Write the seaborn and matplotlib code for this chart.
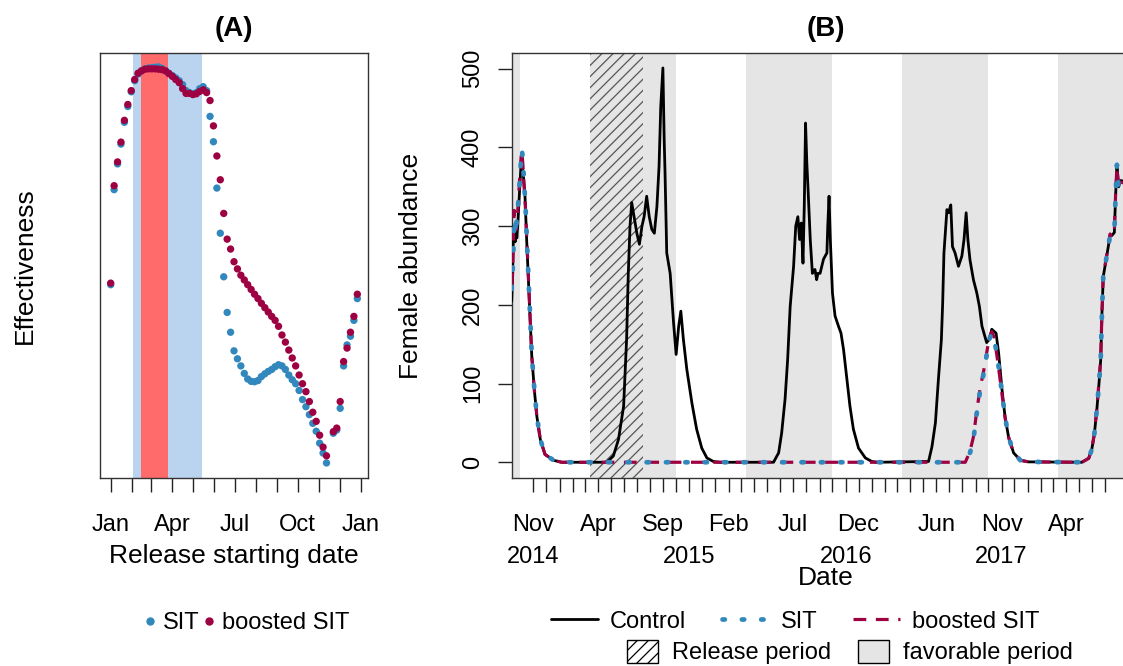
import pandas as pd
import seaborn as sns
import matplotlib.pyplot as plt
from matplotlib.lines import Line2D
from matplotlib.patches import Patch

# ---- panel A : effectiveness by release starting day (day of year) ----
release_day = [0, 5, 10, 15, 20, 25, 30, 35, 40, 45,
               50, 55, 60, 65, 70, 75, 80, 85, 90, 95,
               100, 105, 110, 115, 120, 125, 130, 135, 140, 145,
               150, 155, 160, 165, 170, 175, 180, 185, 190, 195,
               200, 205, 210, 215, 220, 225, 230, 235, 240, 245,
               250, 255, 260, 265, 270, 275, 280, 285, 290, 295,
               300, 305, 310, 315, 320, 325, 330, 335, 340, 345,
               350, 355, 360]
eff_sit = [0.45, 0.69, 0.755, 0.805, 0.86, 0.9, 0.937, 0.965, 0.982, 0.99,
           0.995, 0.997, 0.998, 0.999, 1.0, 0.996, 0.99, 0.984, 0.978, 0.972,
           0.965, 0.955, 0.94, 0.935, 0.932, 0.935, 0.945, 0.95, 0.94, 0.875,
           0.811, 0.694, 0.58, 0.47, 0.38, 0.33, 0.283, 0.263, 0.245, 0.226,
           0.212, 0.206, 0.205, 0.208, 0.218, 0.225, 0.231, 0.236, 0.243, 0.248,
           0.245, 0.236, 0.222, 0.21, 0.2, 0.183, 0.16, 0.142, 0.122, 0.1,
           0.08, 0.05, 0.025, 0.0, None, 0.075, 0.083, 0.138, 0.245, 0.298,
           0.32, 0.36, 0.415]
eff_boosted = [0.454, 0.70, 0.76, 0.81, 0.865, 0.905, 0.94, 0.968, 0.984, 0.99,
               0.994, 0.995, 0.995, 0.995, 0.994, 0.993, 0.99, 0.983, 0.976, 0.968,
               0.96, 0.945, 0.933, 0.933, 0.93, 0.932, 0.938, 0.942, 0.935, 0.915,
               0.851, 0.775, 0.715, 0.63, 0.565, 0.54, 0.508, 0.49, 0.474, 0.462,
               0.45, 0.438, 0.426, 0.415, 0.403, 0.392, 0.381, 0.37, 0.36, 0.345,
               0.323, 0.305, 0.285, 0.265, 0.245, 0.222, 0.2, 0.18, 0.155, 0.128,
               0.105, 0.07, 0.04, 0.018, None, 0.079, 0.088, 0.155, 0.256, 0.29,
               0.33, 0.37, 0.426]
window_wide = (32, 133)   # Feb 1 - May 14
window_best = (44, 84)    # Feb 14 - Mar 26
month_start_doy = [0, 31, 59, 90, 120, 151, 181, 212, 243, 273, 304, 334, 365]
month_names_a = ["Jan", "", "", "Apr", "", "", "Jul", "", "", "Oct", "", "", "Jan"]

# ---- panel B : female abundance over time (days after 2014-11-01) ----
t0 = pd.Timestamp("2014-11-01")
control_day = [-51, -49, -47, -45, -43, -41, -39, -37, -35, -33, -30, -28, -26, -23, -20, -16, -9, -4, 2, 8, 16, 27, 47, 66,
               172, 187, 199, 211, 218, 222, 226, 230, 234, 242, 248, 254, 259, 265, 271, 277, 283, 289, 294, 298,
               303, 306, 308, 312, 320, 328, 334, 340, 345, 351, 359, 371, 382, 394, 406, 421, 437,
               562, 574, 581, 589, 595, 601, 609, 614, 619, 623, 627, 631, 634, 637, 640, 643, 648, 653, 659, 663,
               666, 671, 679, 687, 689, 692, 695, 700, 706, 714, 720, 726, 734, 741, 749, 761, 777, 792, 805,
               925, 933, 941, 948, 955, 958, 961, 968, 972, 977, 981, 987, 995, 1003, 1008, 1013, 1017, 1022,
               1030, 1038, 1044, 1050, 1061, 1067, 1073, 1083, 1089, 1097, 1104, 1112, 1124, 1140, 1159,
               1284, 1300, 1307, 1313, 1319, 1324, 1328, 1331, 1334, 1340, 1346, 1350, 1354, 1360, 1363, 1366,
               1370, 1375, 1381]
control_val = [205, 235, 290, 300, 280, 305, 285, 300, 320, 340, 370, 385, 375, 360, 340, 283, 198, 135, 92, 58, 29, 10, 2.5, 0,
               0, 8, 29, 71, 156, 240, 300, 330, 317, 291, 277, 300, 312, 338, 312, 296, 291, 325, 376, 452,
               501, 410, 368, 266, 240, 177, 137, 173, 192, 156, 118, 75, 42, 18, 5.5, 1, 0,
               0, 12, 37, 80, 130, 198, 249, 300, 312, 283, 304, 253, 325, 431, 380, 345, 283, 240, 245, 232,
               240, 240, 258, 266, 300, 338, 283, 215, 186, 173, 164, 143, 105, 71, 42, 18, 5.5, 1, 0,
               1, 20, 50, 105, 156, 202, 266, 321, 317, 327, 274, 266, 249, 262, 283, 317, 283, 257,
               232, 215, 198, 173, 152, 156, 169, 164, 139, 92, 58, 33, 12, 2.5, 0.5,
               0, 5, 16, 35, 67, 100, 130, 190, 236, 255, 275, 288, 288, 292, 340, 378,
               350, 358, 357]
sit_day = [-51, -49, -47, -45, -43, -41, -39, -37, -34, -31, -28, -27, -25, -22, -19, -16, -9, -4, 2, 8, 16, 27, 47, 66,
           1011, 1022, 1030, 1038, 1046, 1054, 1062, 1067, 1073, 1079, 1087, 1097, 1104, 1112, 1124, 1140, 1159,
           1284, 1300, 1307, 1313, 1319, 1324, 1328, 1331, 1334, 1340, 1346, 1350, 1354, 1360, 1363, 1366,
           1370, 1375, 1381]
sit_val = [220, 240, 270, 310, 305, 290, 310, 320, 340, 370, 392, 397, 385, 355, 330, 290, 200, 137, 93, 58, 29, 10, 2.5, 0,
           0, 12, 29, 63, 92, 113, 139, 156, 164, 156, 130, 88, 58, 33, 12, 2.5, 0.5,
           0, 5, 16, 35, 67, 100, 130, 190, 236, 255, 275, 288, 288, 292, 340, 378,
           350, 358, 357]
boosted_day = [-51, -49, -47, -45, -43, -41, -39, -37, -34, -31, -28, -27, -25, -22, -19, -16, -9, -4, 2, 8, 16, 27, 47, 66,
               1011, 1022, 1030, 1038, 1046, 1054, 1062, 1067, 1073, 1079, 1087, 1097, 1104, 1112, 1124, 1140, 1159,
               1284, 1300, 1307, 1313, 1319, 1324, 1328, 1331, 1334, 1340, 1346, 1350, 1354, 1360, 1363, 1366,
               1370, 1375, 1381]
boosted_val = [225, 238, 285, 320, 300, 295, 305, 318, 345, 372, 395, 393, 380, 350, 325, 288, 198, 135, 92, 58, 29, 10, 2.5, 0,
               0, 14, 32, 66, 95, 116, 142, 158, 166, 158, 128, 86, 57, 32, 12, 2.5, 0.5,
               0, 5, 16, 36, 68, 102, 132, 192, 238, 256, 276, 290, 286, 294, 342, 375,
               348, 356, 355]
release_period = ("2015-03-13", "2015-07-15")
favorable_start = ["2014-03-13", "2015-03-13", "2016-03-13", "2017-03-13", "2018-03-13"]
favorable_end = ["2014-09-30", "2015-09-30", "2016-09-30", "2017-09-30", "2018-09-30"]
month_tick_dates = ["2014-11-01", "2015-04-01", "2015-09-01", "2016-02-01", "2016-07-01",
                    "2016-12-01", "2017-06-01", "2017-11-01", "2018-04-01"]
month_tick_names = ["Nov", "Apr", "Sep", "Feb", "Jul", "Dec", "Jun", "Nov", "Apr"]
year_tick_dates = ["2014-11-01", "2015-11-01", "2016-11-01", "2017-11-01"]
year_tick_names = ["2014", "2015", "2016", "2017"]

BLUE = "#3288BD"
RED = "#9E0142"

sns.set_style("ticks")
plt.rcParams["font.family"] = ["Liberation Sans", "DejaVu Sans"]
plt.rcParams["hatch.linewidth"] = 0.9
for key in ("text.color", "axes.labelcolor", "xtick.color", "ytick.color"):
    plt.rcParams[key] = "black"

fig = plt.figure(figsize=(11.23, 6.66), dpi=100)
axA = fig.add_axes([0.08905, 0.28228, 0.23865, 0.63814])
axB = fig.add_axes([0.45565, 0.28228, 0.55948, 0.63814])

# ---------------- panel A ----------------
axA.axvspan(*window_wide, color="#BAD3EE", lw=0, zorder=0)
axA.axvspan(*window_best, color="#FF6A6A", lw=0, zorder=0)
dfA = pd.concat([
    pd.DataFrame({"day": release_day, "eff": eff_sit, "model": "SIT"}),
    pd.DataFrame({"day": release_day, "eff": eff_boosted, "model": "boosted SIT"}),
]).dropna()
dfA["eff"] = dfA["eff"].astype(float)
sns.scatterplot(data=dfA, x="day", y="eff", hue="model", palette={"SIT": BLUE, "boosted SIT": RED},
                s=28, linewidth=0, legend=False, ax=axA, zorder=3)
axA.set_xlim(-15.6, 375.6)
axA.set_ylim(-0.038, 1.035)
axA.set_xticks(month_start_doy)
axA.set_xticklabels(month_names_a)
axA.set_yticks([])
axA.tick_params(axis="x", length=10, width=1, labelsize=17, pad=16, color="#222222")
axA.set_title("(A)", fontsize=20, fontweight="bold", pad=12)
axA.set_xlabel("Release starting date", fontsize=19)
axA.set_ylabel("Effectiveness", fontsize=19)
axA.xaxis.set_label_coords(0.5, -0.1835)
axA.xaxis.label.set_va("center")
axA.yaxis.set_label_coords(-0.28, 0.5)
axA.yaxis.label.set_va("center")

# ---------------- panel B ----------------
for s, e in zip(favorable_start, favorable_end):
    axB.axvspan(pd.Timestamp(s), pd.Timestamp(e), color="#E5E5E5", lw=0, zorder=0)
axB.axvspan(pd.Timestamp(release_period[0]), pd.Timestamp(release_period[1]),
            facecolor="none", edgecolor="#555555", hatch="///", lw=0, zorder=0.5)

ctrl_dates = t0 + pd.to_timedelta(control_day, unit="D")
sit_dates = t0 + pd.to_timedelta(sit_day, unit="D")
boost_dates = t0 + pd.to_timedelta(boosted_day, unit="D")

sns.lineplot(x=ctrl_dates, y=control_val, estimator=None, color="black", lw=2.0, ax=axB, zorder=3)
sns.lineplot(x=boost_dates, y=boosted_val, estimator=None, color=RED, lw=2.3,
             linestyle=(0, (4, 3)), ax=axB, zorder=4)
sns.lineplot(x=sit_dates, y=sit_val, estimator=None, color=BLUE, lw=3.4,
             linestyle=(0, (0.5, 3.6)), dash_capstyle="round", ax=axB, zorder=5)

axB.set_xlim(pd.Timestamp("2014-09-11"), pd.Timestamp("2018-09-21"))
axB.set_ylim(-20, 520)
axB.set_yticks([0, 100, 200, 300, 400, 500])

# month names on the axis, years on a second row underneath
axB.set_xticks([pd.Timestamp(d) for d in month_tick_dates])
axB.set_xticklabels(month_tick_names)
axB.set_xticks(pd.date_range("2014-11-01", "2018-07-01", freq="MS"), minor=True)
axB.tick_params(axis="x", which="both", length=10, width=1, labelsize=17, pad=16, color="#222222")
years_ax = axB.secondary_xaxis("bottom")
years_ax.set_xticks([pd.Timestamp(d) for d in year_tick_dates])
years_ax.set_xticklabels(year_tick_names)
years_ax.tick_params(axis="x", length=0, labelsize=17, pad=49)
years_ax.spines["bottom"].set_visible(False)

axB.tick_params(axis="y", length=10, width=1, labelsize=17, pad=10, labelrotation=90, color="#222222")
for lbl in axB.get_yticklabels():
    lbl.set_va("center")
axB.set_title("(B)", fontsize=20, fontweight="bold", pad=12)
axB.set_xlabel("Date", fontsize=19)
axB.set_ylabel("Female abundance", fontsize=19)
axB.xaxis.set_label_coords(0.5, -0.2353)
axB.xaxis.label.set_va("center")
axB.yaxis.set_label_coords(-0.160, 0.5)
axB.yaxis.label.set_va("center")

for ax in (axA, axB):
    for sp in ax.spines.values():
        sp.set_visible(True)
        sp.set_color("#333333")
        sp.set_linewidth(1.0)

# ---------------- legends ----------------
hA = [Line2D([], [], marker="o", ls="none", color=BLUE, markersize=5),
      Line2D([], [], marker="o", ls="none", color=RED, markersize=5)]
fig.legend(hA, ["SIT", "boosted SIT"], loc="center", bbox_to_anchor=(0.22, 0.0646), ncol=2,
           frameon=False, fontsize=17, handlelength=0.4, handletextpad=0.35, columnspacing=0.2,
           borderpad=0)

hB1 = [Line2D([], [], color="black", lw=2),
       Line2D([], [], color=BLUE, lw=3.4, linestyle=(0, (0.5, 3.6)), dash_capstyle="round"),
       Line2D([], [], color=RED, lw=2.3, linestyle=(0, (4, 3)))]
fig.legend(hB1, ["Control", "SIT", "boosted SIT"], loc="center", bbox_to_anchor=(0.708, 0.0665),
           ncol=3, frameon=False, fontsize=17, handlelength=2.0, handletextpad=0.5,
           columnspacing=1.5, borderpad=0)
hB2 = [Patch(facecolor="white", edgecolor="black", hatch="///", lw=1),
       Patch(facecolor="#E5E5E5", edgecolor="black", lw=1)]
fig.legend(hB2, ["Release period", "favorable period"], loc="center", bbox_to_anchor=(0.757, 0.021),
           ncol=2, frameon=False, fontsize=17, handlelength=1.3, handleheight=1.1,
           handletextpad=0.6, columnspacing=1.15, borderpad=0)

fig.savefig("out.png", dpi=100)
